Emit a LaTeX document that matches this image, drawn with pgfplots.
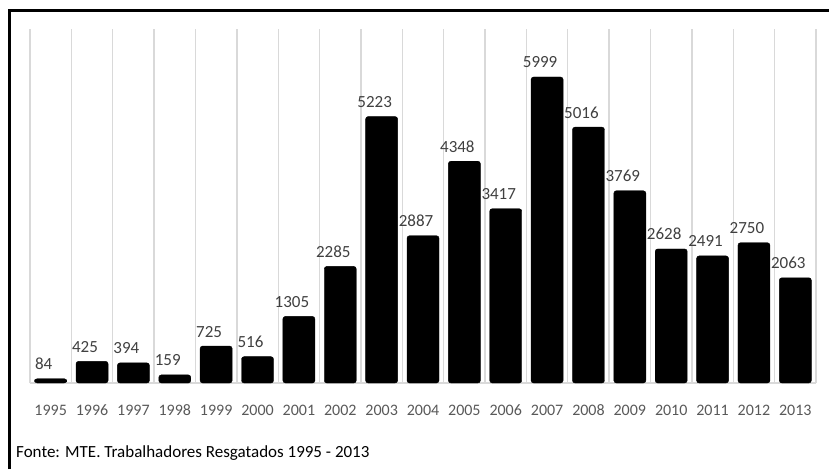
\documentclass[border=0pt]{standalone}
\usepackage{fontspec}
\setmainfont{Carlito}
\usepackage{pgfplots}
\pgfplotsset{compat=1.18}
\definecolor{gridgray}{HTML}{D9D9D9}
\definecolor{ticklab}{HTML}{595959}
\definecolor{vallab}{HTML}{404040}
\begin{document}
\begin{tikzpicture}[x=1pt,y=1pt]
\useasboundingbox (0,0) rectangle (829,469);
% frame (left and top)
\draw[line width=3pt] (9.5,0) -- (9.5,458) -- (829,458);
\begin{axis}[
  at={(30pt,86pt)}, anchor=south west,
  scale only axis, width=786pt, height=354pt,
  xmin=-0.5, xmax=18.5, ymin=0, ymax=6940,
  axis line style={draw=none},
  major tick length=0pt, minor tick length=0pt,
  ytick=\empty,
  xtick={0,...,18},
  xticklabels={1995,1996,1997,1998,1999,2000,2001,2002,2003,2004,2005,2006,2007,2008,2009,2010,2011,2012,2013},
  xticklabel style={font=\fontsize{16}{19}\selectfont, text=ticklab, anchor=base, inner sep=0pt, yshift=-32pt},
  minor xtick={-0.5,0.5,...,18.5},
  xminorgrids,
  minor grid style={gridgray, line width=1.4pt},
  ybar, bar width=32pt,
  clip=false,
  nodes near coords,
  every node near coord/.append style={font=\fontsize{17}{20}\selectfont, text=vallab, anchor=base, inner sep=0pt, xshift=-7pt, yshift=9pt},
  /pgf/number format/assume math mode=true,
  /pgf/number format/1000 sep={},
]
\draw[gridgray, line width=1.4pt] (axis cs:-0.5,0) -- (axis cs:18.5,0);
\addplot[fill=black, draw=black, rounded corners=2.5pt] coordinates {
  (0,84) (1,425) (2,394) (3,159) (4,725) (5,516) (6,1305) (7,2285) (8,5223) (9,2887)
  (10,4348) (11,3417) (12,5999) (13,5016) (14,3769) (15,2628) (16,2491) (17,2750) (18,2063)
};
\end{axis}
\node[anchor=west, inner sep=0pt, font=\fontsize{17}{20}\selectfont] at (16,16) {Fonte: MTE. Trabalhadores Resgatados 1995 - 2013};
\end{tikzpicture}
\end{document}
